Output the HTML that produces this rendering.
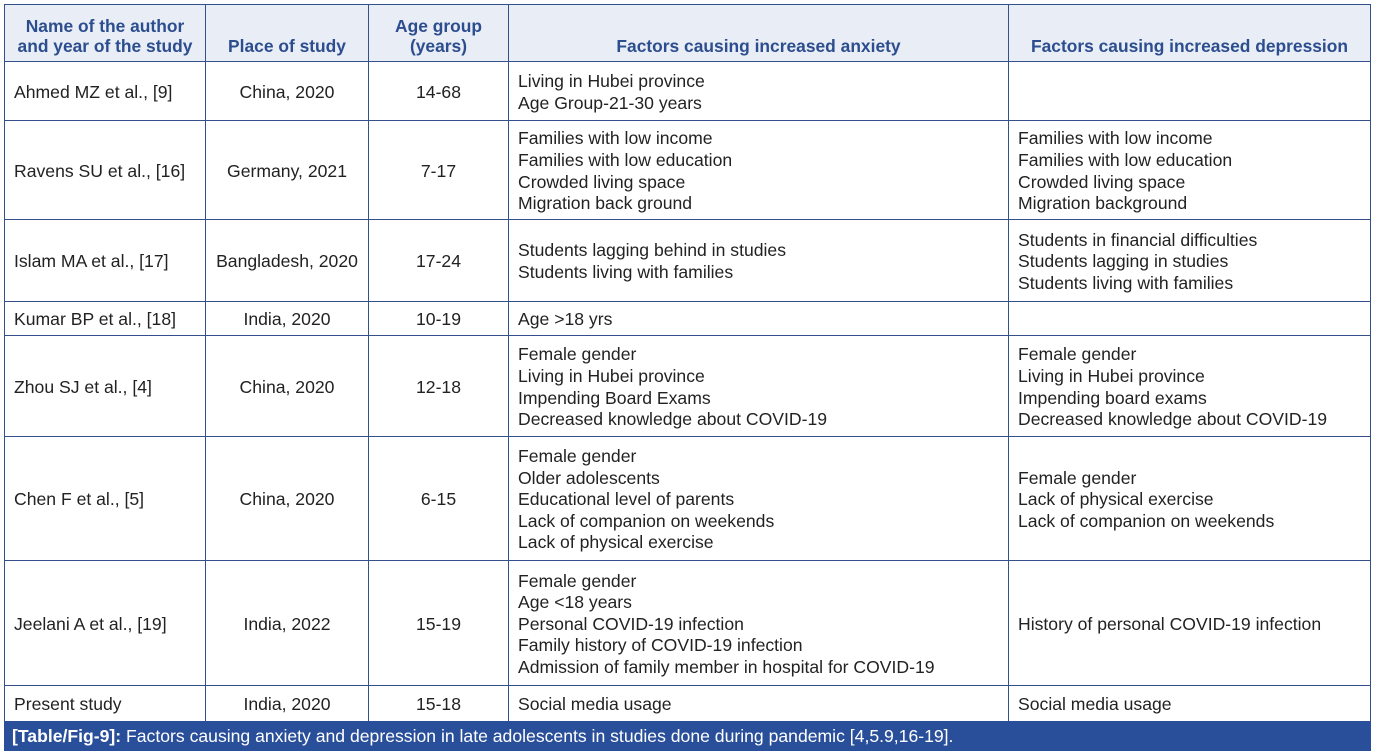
<!DOCTYPE html>
<html><head><meta charset="utf-8"><style>
body{margin:0;width:1374px;height:756px;background:#fff;position:relative;font-family:"Liberation Sans",Arial,sans-serif;overflow:hidden}
.c{position:absolute;box-sizing:border-box;border:1px solid #34508a;display:flex;align-items:center;font-size:17.6px;line-height:21.6px;color:#222;margin-left:-1px;margin-top:-1px;padding-top:3px}
.h{background:#e8edf6;color:#2c4d8e;font-weight:bold;justify-content:center;text-align:center;line-height:20px;font-size:17.4px;align-items:flex-end;padding-bottom:5px}
.ctr{justify-content:center;text-align:center}
.l{padding-left:9px}
.cap{position:absolute;left:4px;top:721px;width:1367px;height:30px;background:#2a4f9a;color:#fff;font-size:17.6px;line-height:31px;padding-left:8px;box-sizing:border-box;white-space:nowrap}
</style></head><body>
<div id="t"></div>
<div class="cap"><b>[Table/Fig-9]:</b> Factors causing anxiety and depression in late adolescents in studies done during pandemic [4,5.9,16-19].</div>
<script>
var xs=[5,206,369,509,1009,1371];
var ys=[5,62,121,220,302,336,437,561,686,722];
var rows=[
["Name of the author<br>and year of the study","Place of study","Age group<br>(years)","Factors causing increased anxiety","Factors causing increased depression"],
["Ahmed MZ et al., [9]","China, 2020","14-68","Living in Hubei province<br>Age Group-21-30 years",""],
["Ravens SU et al., [16]","Germany, 2021","7-17","Families with low income<br>Families with low education<br>Crowded living space<br>Migration back ground","Families with low income<br>Families with low education<br>Crowded living space<br>Migration background"],
["Islam MA et al., [17]","Bangladesh, 2020","17-24","Students lagging behind in studies<br>Students living with families","Students in financial difficulties<br>Students lagging in studies<br>Students living with families"],
["Kumar BP et al., [18]","India, 2020","10-19","Age &gt;18 yrs",""],
["Zhou SJ et al., [4]","China, 2020","12-18","Female gender<br>Living in Hubei province<br>Impending Board Exams<br>Decreased knowledge about COVID-19","Female gender<br>Living in Hubei province<br>Impending board exams<br>Decreased knowledge about COVID-19"],
["Chen F et al., [5]","China, 2020","6-15","Female gender<br>Older adolescents<br>Educational level of parents<br>Lack of companion on weekends<br>Lack of physical exercise","Female gender<br>Lack of physical exercise<br>Lack of companion on weekends"],
["Jeelani A et al., [19]","India, 2022","15-19","Female gender<br>Age &lt;18 years<br>Personal COVID-19 infection<br>Family history of COVID-19 infection<br>Admission of family member in hospital for COVID-19","History of personal COVID-19 infection"],
["Present study","India, 2020","15-18","Social media usage","Social media usage"]];
var h="";
rows.forEach(function(r,i){r.forEach(function(t,j){
var cls=i==0?"c h":(j==1||j==2?"c ctr":"c l");
h+='<div class="'+cls+'" style="left:'+xs[j]+'px;top:'+ys[i]+'px;width:'+(xs[j+1]-xs[j]+1)+'px;height:'+(ys[i+1]-ys[i]+1)+'px"><div>'+t+'</div></div>';});});
document.getElementById("t").innerHTML=h;
</script>
</body></html>
